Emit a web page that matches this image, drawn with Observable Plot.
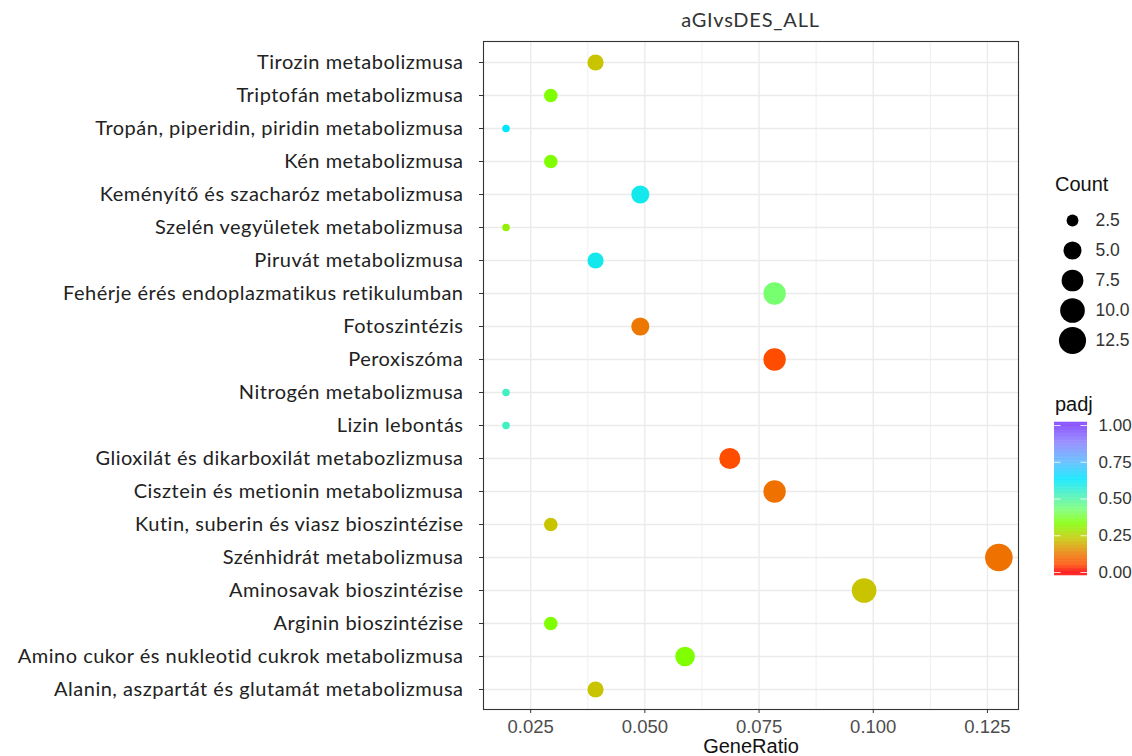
<!DOCTYPE html>
<html>
<head>
<meta charset="utf-8">
<script src="https://cdn.jsdelivr.net/npm/d3@7"></script>
<script src="https://cdn.jsdelivr.net/npm/@observablehq/plot@0.6"></script>
<style>
  html, body { margin: 0; padding: 0; background: #ffffff; }
  #root { position: relative; width: 1132px; height: 756px; background: #fff; overflow: hidden; }
  #root > * { position: absolute; }
  .lgtitle { font-family: "Liberation Sans", Arial, sans-serif; font-size: 20px; line-height: 20px; color: #111; }
</style>
</head>
<body>
<div id="root"></div>
<script>
// ---- data (top to bottom as displayed) ----
const terms = [
  "Tirozin metabolizmusa",
  "Triptofán metabolizmusa",
  "Tropán, piperidin, piridin metabolizmusa",
  "Kén metabolizmusa",
  "Keményítő és szacharóz metabolizmusa",
  "Szelén vegyületek metabolizmusa",
  "Piruvát metabolizmusa",
  "Fehérje érés endoplazmatikus retikulumban",
  "Fotoszintézis",
  "Peroxiszóma",
  "Nitrogén metabolizmusa",
  "Lizin lebontás",
  "Glioxilát és dikarboxilát metabozlizmusa",
  "Cisztein és metionin metabolizmusa",
  "Kutin, suberin és viasz bioszintézise",
  "Szénhidrát metabolizmusa",
  "Aminosavak bioszintézise",
  "Arginin bioszintézise",
  "Amino cukor és nukleotid cukrok metabolizmusa",
  "Alanin, aszpartát és glutamát metabolizmusa"
];
const counts = [4, 3, 2, 3, 5, 2, 4, 8, 5, 8, 2, 2, 7, 8, 3, 13, 10, 3, 6, 4];
const geneRatio = [0.0392, 0.0294, 0.0196, 0.0294, 0.0490, 0.0196, 0.0392, 0.0784, 0.0490, 0.0784,
                   0.0196, 0.0196, 0.0686, 0.0784, 0.0294, 0.1275, 0.0980, 0.0294, 0.0588, 0.0392];
const padj = [0.22, 0.33, 0.63, 0.33, 0.60, 0.30, 0.60, 0.42, 0.12, 0.05,
              0.53, 0.53, 0.05, 0.11, 0.22, 0.11, 0.22, 0.33, 0.33, 0.22];

const xTicks = [0.025, 0.050, 0.075, 0.100, 0.125];
const xMinorTicks = [0.0375, 0.0625, 0.0875, 0.1125];
const sizeTicks = [2.5, 5.0, 7.5, 10.0, 12.5];
const padjTicks = [0, 0.25, 0.5, 0.75, 1];
const title = "aGIvsDES_ALL";

// colour gradient stops
const colorStops = [0, 0.05, 0.12, 0.22, 0.33, 0.42, 0.53, 0.63, 0.75, 0.88, 1];
const colorRange = ["#ff0000", "#ff4d00", "#ec7800", "#c8c400", "#80ff00", "#78ff70",
                    "#40f0c0", "#00e6ff", "#58b8ff", "#8a80ff", "#7a3cff"];

const rows = terms.map((t, i) => ({term: t, count: counts[i], ratio: geneRatio[i], padj: padj[i]}));
const minCount = d3.min(counts), maxCount = d3.max(counts);

const colorScale = {type: "linear", domain: colorStops, range: colorRange, clamp: true};
const rScale = {type: "sqrt", domain: [0, maxCount - minCount], range: [3.8, 13.8]};

const sans = "'Liberation Sans', Arial, Helvetica, sans-serif";
const labelFont = "Lato, 'Open Sans', sans-serif";

const root = document.getElementById("root");

// ---- main chart ----
const main = Plot.plot({
  width: 1132, height: 756,
  marginLeft: 483, marginRight: 114, marginTop: 41, marginBottom: 47,
  style: {fontFamily: sans, background: "transparent"},
  x: {domain: [0.01467, 0.1318]},
  y: {type: "point", domain: terms, range: [61, 689], padding: 0},
  r: rScale,
  color: colorScale,
  marks: [
    Plot.ruleX(xMinorTicks, {stroke: "#f2f2f2", strokeWidth: 1.2, clip: true}),
    Plot.ruleX(xTicks, {stroke: "#ebebeb", strokeWidth: 1.4, clip: true}),
    Plot.ruleY(terms, {y: d => d, stroke: "#ebebeb", strokeWidth: 1.4, clip: true}),
    Plot.dot(rows, {x: "ratio", y: "term", r: d => d.count - minCount, fill: "padj", stroke: null}),
    Plot.frame({stroke: "#333333", strokeWidth: 1.1}),
    Plot.axisX({ticks: xTicks, tickFormat: d3.format(".3f"), tickSize: 4, tickPadding: 6,
                fontSize: 18.5, fill: "#4d4d4d", stroke: "#333",
                label: "GeneRatio", labelAnchor: "center", labelArrow: "none", labelOffset: 43}),
    Plot.axisY({tickSize: 4, tickPadding: 16, fontSize: 20, fontFamily: labelFont,
                fill: "#222", stroke: "#333", label: null})
  ]
});
main.style.left = "0px"; main.style.top = "0px";
root.appendChild(main);
main.querySelectorAll("g[aria-label='x-axis label'] text").forEach(t => {
  t.setAttribute("font-size", "20"); t.setAttribute("fill", "#111");
});
main.querySelectorAll("g[aria-label='y-axis tick label']").forEach(g => {
  g.style.letterSpacing = "0.5px";
});

// ---- title ----
const ttl = document.createElement("div");
ttl.textContent = title;
ttl.style.cssText = "left:483px;width:535px;top:9px;text-align:center;font-family:Lato,sans-serif;font-size:20px;line-height:20px;letter-spacing:0.8px;color:#333;";
root.appendChild(ttl);

// ---- size legend ----
const cTitle = document.createElement("div");
cTitle.className = "lgtitle"; cTitle.textContent = "Count";
cTitle.style.left = "1055px"; cTitle.style.top = "174px";
root.appendChild(cTitle);

const sizeLegend = Plot.plot({
  width: 92, height: 170, margin: 0,
  style: {fontFamily: sans, background: "transparent", overflow: "visible"},
  x: {domain: [0, 1], range: [32, 55], axis: null},
  y: {type: "point", domain: sizeTicks, range: [18, 141], padding: 0, axis: null},
  r: rScale,
  marks: [
    Plot.dot(sizeTicks, {x: 0, y: d => d, r: d => d - minCount, fill: "#000", stroke: null}),
    Plot.text(sizeTicks, {x: 1, y: d => d, text: d => d.toFixed(1), textAnchor: "start",
                          fontSize: 17.5, fill: "#333"})
  ]
});
sizeLegend.style.left = "1040px"; sizeLegend.style.top = "200px";
root.appendChild(sizeLegend);

// ---- colour bar legend ----
const pTitle = document.createElement("div");
pTitle.className = "lgtitle"; pTitle.textContent = "padj";
pTitle.style.left = "1055px"; pTitle.style.top = "394px";
root.appendChild(pTitle);

const step = 0.004;
const bins = d3.range(-0.022, 1.022, step);
const barLegend = Plot.plot({
  width: 92, height: 180, margin: 0,
  style: {fontFamily: sans, background: "transparent", overflow: "visible"},
  x: {domain: [0, 1], range: [14, 47], axis: null},
  y: {domain: [0, 1], range: [157, 10], axis: null},
  color: colorScale,
  marks: [
    Plot.rect(bins, {x1: 0, x2: 1, y1: d => d, y2: d => Math.min(d + step + 0.001, 1.022), fill: d => d, stroke: null}),
    Plot.ruleY(padjTicks, {x1: 0, x2: 0.2, y: d => d, stroke: "#fff", strokeOpacity: 0.8}),
    Plot.ruleY(padjTicks, {x1: 0.8, x2: 1, y: d => d, stroke: "#fff", strokeOpacity: 0.8}),
    Plot.text(padjTicks, {x: 1, y: d => d, dx: 11, text: d => d.toFixed(2), textAnchor: "start",
                          fontSize: 17, fill: "#333"})
  ]
});
barLegend.style.left = "1040px"; barLegend.style.top = "415px";
root.appendChild(barLegend);
</script>
</body>
</html>
